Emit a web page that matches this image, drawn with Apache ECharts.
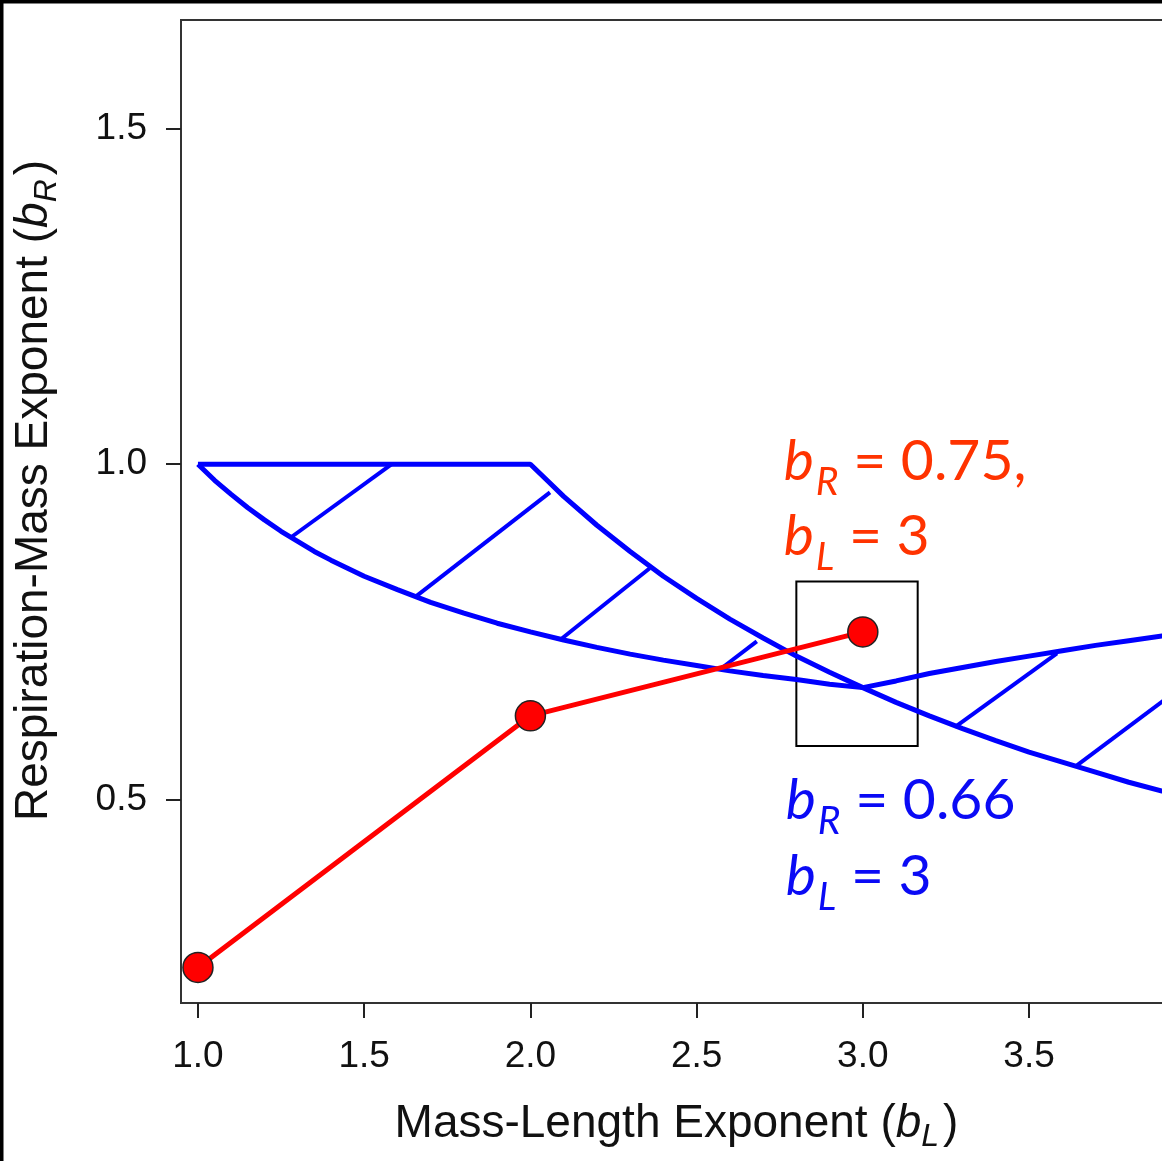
<!DOCTYPE html>
<html>
<head>
<meta charset="utf-8">
<script src="https://cdn.jsdelivr.net/npm/echarts@6/dist/echarts.min.js"></script>
<style>
  html, body { margin: 0; padding: 0; background: #fff; }
  #chart { width: 1162px; height: 1161px; }
</style>
</head>
<body>
<div id="chart"></div>
<script>
// Respiration-mass exponent (b_R) against mass-length exponent (b_L)

const xTicks = [1.0, 1.5, 2.0, 2.5, 3.0, 3.5];
const yTicks = [0.5, 1.0, 1.5];

// Upper edge of the hatched band
const upperBound = [
  [1.0, 1.000], [2.0, 1.000], [2.05, 0.976], [2.1, 0.952], [2.2, 0.909], [2.3, 0.870],
  [2.4, 0.833], [2.5, 0.800], [2.6, 0.769], [2.7, 0.741], [2.8, 0.714],
  [2.9, 0.690], [3.0, 0.667], [3.1, 0.645], [3.2, 0.625], [3.3, 0.606],
  [3.4, 0.588], [3.5, 0.571], [3.6, 0.556], [3.7, 0.541], [3.8, 0.526],
  [3.9, 0.513], [4.0, 0.500]
];

// Lower edge of the hatched band
const lowerBound = [
  [1.0, 1.000], [1.05, 0.976], [1.1, 0.955], [1.15, 0.935], [1.2, 0.917],
  [1.25, 0.900], [1.3, 0.885], [1.35, 0.870], [1.4, 0.857], [1.45, 0.845],
  [1.5, 0.833], [1.6, 0.813], [1.7, 0.794], [1.8, 0.778], [1.9, 0.763],
  [2.0, 0.750], [2.1, 0.738], [2.2, 0.727], [2.3, 0.717], [2.4, 0.708],
  [2.5, 0.700], [2.6, 0.692], [2.7, 0.685], [2.8, 0.679], [2.9, 0.672],
  [3.0, 0.667], [3.1, 0.677], [3.2, 0.688], [3.3, 0.697], [3.4, 0.706],
  [3.5, 0.714], [3.6, 0.722], [3.7, 0.730], [3.8, 0.737], [3.9, 0.744],
  [4.0, 0.750]
];

// Hatch strokes across the band: [start, end]
const hatchSegments = [
  [[1.277, 0.890], [1.583, 1.000]],
  [[1.653, 0.802], [2.059, 0.958]],
  [[2.089, 0.738], [2.359, 0.845]],
  [[2.570, 0.694], [2.681, 0.736]],
  [[3.277, 0.608], [3.584, 0.718]],
  [[3.644, 0.551], [3.930, 0.657]]
];

// Predicted exponents
const predicted = [[1.0, 0.25], [2.0, 0.625], [3.0, 0.75]];

// Highlight box around b_L = 3
const boxCorners = [[2.80, 0.825], [3.165, 0.58]];

const BLUE = '#0000FF';
const RED = '#FF0000';
const NOTE_RED = '#FF3300';
const NOTE_BLUE = '#0A0AF5';
const AXIS_FONT = '"Liberation Sans", Arial, sans-serif';
const NOTE_FONT = 'Lato, "Open Sans", sans-serif';

const chart = echarts.init(document.getElementById('chart'), null, { renderer: 'canvas' });

function titleRich(size) {
  return {
    n: { fontSize: size, fontFamily: AXIS_FONT, color: '#111', verticalAlign: 'middle' },
    i: { fontSize: size, fontFamily: AXIS_FONT, color: '#111', fontStyle: 'italic', verticalAlign: 'middle' },
    s: { fontSize: Math.round(size * 0.7), fontFamily: AXIS_FONT, color: '#111', fontStyle: 'italic',
         verticalAlign: 'middle', padding: [26, 4, 0, 0] }
  };
}

const option = {
  animation: false,
  backgroundColor: '#fff',
  grid: {
    left: 181, top: 20, width: 991, height: 983,
    containLabel: false, outerBoundsMode: 'none',
    show: true, borderColor: '#333', borderWidth: 2, backgroundColor: 'transparent'
  },
  xAxis: {
    type: 'value', min: 0.949, max: 3.93,
    axisLine: { show: false },
    splitLine: { show: false },
    axisTick: { show: true, customValues: xTicks, length: 15, lineStyle: { color: '#222', width: 2 } },
    axisLabel: {
      customValues: xTicks, margin: 35, fontSize: 37, fontFamily: AXIS_FONT, color: '#111',
      formatter: v => v.toFixed(1)
    },
    name: '{n|Mass-Length Exponent (}{i|b}{s|L}{n|)}',
    nameLocation: 'middle', nameGap: 92,
    nameTextStyle: { rich: titleRich(46) }
  },
  yAxis: {
    type: 'value', min: 0.197, max: 1.662,
    axisLine: { show: false },
    splitLine: { show: false },
    axisTick: { show: true, customValues: yTicks, length: 15, lineStyle: { color: '#222', width: 2 } },
    axisLabel: {
      customValues: yTicks, margin: 34, fontSize: 37, fontFamily: AXIS_FONT, color: '#111',
      formatter: v => v.toFixed(1)
    },
    name: '{n|Respiration-Mass Exponent (}{i|b}{s|R}{n|)}',
    nameLocation: 'middle', nameGap: 118, nameRotate: 90,
    nameTextStyle: { rich: titleRich(46), padding: [0, 0, 0, 42] }
  },
  series: [
    {
      type: 'line', data: upperBound, showSymbol: false, symbol: 'none',
      lineStyle: { color: BLUE, width: 5 }, z: 3
    },
    {
      type: 'line', data: lowerBound, showSymbol: false, symbol: 'none',
      lineStyle: { color: BLUE, width: 5 }, z: 3
    },
    {
      type: 'lines', coordinateSystem: 'cartesian2d',
      data: hatchSegments.map(s => ({ coords: s })),
      lineStyle: { color: BLUE, width: 4, opacity: 1 }, z: 3, silent: true
    },
    {
      type: 'line', data: predicted,
      symbol: 'circle', symbolSize: 30, showSymbol: true,
      lineStyle: { color: RED, width: 5 },
      itemStyle: { color: RED, borderColor: '#222', borderWidth: 1.5 },
      z: 5,
      markArea: {
        silent: true,
        itemStyle: { color: 'rgba(0,0,0,0)', borderColor: '#000', borderWidth: 2 },
        data: [[{ coord: boxCorners[0] }, { coord: boxCorners[1] }]]
      }
    }
  ]
};

chart.setOption(option);

// Value notes beside the box, anchored in data coordinates
function noteRich(color) {
  return {
    b: { fontSize: 57, fontFamily: NOTE_FONT, fontStyle: 'italic', fill: color, verticalAlign: 'middle' },
    s: { fontSize: 39, fontFamily: NOTE_FONT, fontStyle: 'italic', fill: color, verticalAlign: 'middle',
         padding: [42, 0, 0, 2] },
    t: { fontSize: 57, fontFamily: NOTE_FONT, fill: color, verticalAlign: 'middle' }
  };
}

function noteLine(dataPt, text, color) {
  const p = chart.convertToPixel({ gridIndex: 0 }, dataPt);
  return {
    type: 'text', x: p[0], y: p[1], z: 20, silent: true,
    style: { text: text, rich: noteRich(color), align: 'left', verticalAlign: 'middle' }
  };
}

chart.setOption({
  graphic: [
    // outer frame (top and left edges visible)
    {
      type: 'rect', z: 30, silent: true,
      shape: { x: 0, y: 0, width: 1180, height: 1180 },
      style: { fill: 'none', stroke: '#000', lineWidth: 7 }
    },
    noteLine([2.762, 1.004], '{b|b}{s|R}{t| = 0.75,}', NOTE_RED),
    noteLine([2.762, 0.892], '{b|b}{s|L}{t| = 3}', NOTE_RED),
    noteLine([2.768, 0.499], '{b|b}{s|R}{t| = 0.66}', NOTE_BLUE),
    noteLine([2.768, 0.386], '{b|b}{s|L}{t| = 3}', NOTE_BLUE)
  ]
});
</script>
</body>
</html>
